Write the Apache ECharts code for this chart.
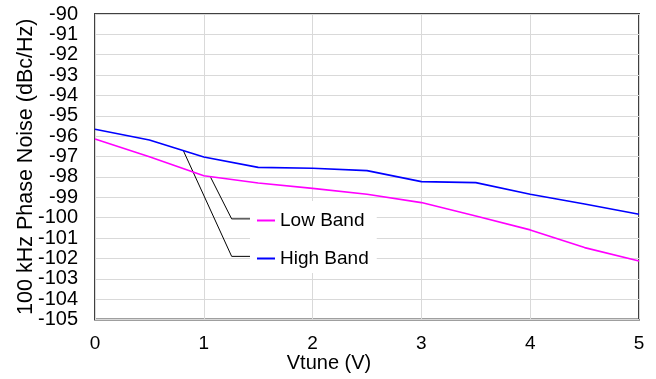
<!DOCTYPE html>
<html>
<head>
    <meta charset="UTF-8">
    <title>Phase Noise vs Vtune</title>
    <style>
        html, body { margin: 0; padding: 0; background: #fff; }
        #chart { width: 656px; height: 379px; }
    </style>
</head>
<body>
    <div id="chart"></div>
    <script src="https://cdn.jsdelivr.net/npm/echarts@6/dist/echarts.min.js"></script>
    <script>
    // data
    var vtune    = [0, 0.5, 1, 1.5, 2, 2.5, 3, 3.5, 4, 4.5, 5];
    var lowBand  = [-96.14, -97.01, -97.94, -98.30, -98.56, -98.85, -99.26, -99.92, -100.60, -101.47, -102.13];
    var highBand = [-95.66, -96.19, -97.02, -97.53, -97.57, -97.69, -98.23, -98.28, -98.85, -99.33, -99.83];
    // leader lines from curves to the labels (in data units)
    var lowLeader  = [[1.063, -98.02], [1.256, -100.06], [1.449, -100.06]];
    var highLeader = [[0.812, -96.71], [1.256, -101.9], [1.449, -101.9]];

    function pairs(xs, ys) {
        var out = [];
        for (var i = 0; i < xs.length; i++) out.push([xs[i], ys[i]]);
        return out;
    }

    var font = 'Liberation Sans, Arial, sans-serif';
    var chart = echarts.init(document.getElementById('chart'));
    var option = {
        animation: false,
        textStyle: { fontFamily: font, color: '#000' },
        grid: {
            left: 95, right: 17, top: 14, bottom: 59.5,
            containLabel: false,
            outerBoundsMode: 'none',
            show: true, borderColor: '#404040', borderWidth: 2,
            backgroundColor: 'transparent'
        },
        legend: {
            data: ['Low Band', 'High Band'],
            orient: 'vertical',
            left: 250, top: 201,
            padding: [10, 8, 5, 7],
            itemGap: 19,
            itemWidth: 18,
            itemHeight: 2,
            icon: 'rect',
            backgroundColor: '#fff',
            textStyle: { fontFamily: font, fontSize: 19, color: '#000' },
            selectedMode: false
        },
        xAxis: {
            type: 'value', min: 0, max: 5, interval: 1,
            name: 'Vtune (V)', nameLocation: 'middle', nameGap: 34,
            nameMoveOverlap: false,
            nameTextStyle: { fontFamily: font, fontSize: 20, color: '#000', padding: [0, 76, 0, 0] },
            axisLine: { show: false },
            axisTick: { show: false },
            axisLabel: { fontFamily: font, fontSize: 19, color: '#000', margin: 15 },
            splitLine: { lineStyle: { color: '#d9d9d9', width: 1 } }
        },
        yAxis: {
            type: 'value', min: -105, max: -90, interval: 1,
            name: '100 kHz Phase Noise (dBc/Hz)', nameLocation: 'middle', nameGap: 58,
            nameMoveOverlap: false,
            nameTextStyle: { fontFamily: font, fontSize: 21.5, color: '#000' },
            axisLine: { show: false },
            axisTick: { show: false },
            axisLabel: { fontFamily: font, fontSize: 20, color: '#000', margin: 17 },
            splitLine: { lineStyle: { color: '#d9d9d9', width: 1 } }
        },
        series: [
            {
                name: 'Low Band', type: 'line', symbol: 'none',
                data: pairs(vtune, lowBand),
                lineStyle: { color: '#ff00ff', width: 1.6 },
                itemStyle: { color: '#ff00ff' },
                z: 3
            },
            {
                name: 'High Band', type: 'line', symbol: 'none',
                data: pairs(vtune, highBand),
                lineStyle: { color: '#0000ff', width: 1.6 },
                itemStyle: { color: '#0000ff' },
                z: 3
            },
            {
                name: 'lowLeader', type: 'line', symbol: 'none', silent: true,
                data: lowLeader,
                lineStyle: { color: '#000', width: 1 },
                z: 2
            },
            {
                name: 'highLeader', type: 'line', symbol: 'none', silent: true,
                data: highLeader,
                lineStyle: { color: '#000', width: 1 },
                z: 2
            }
        ]
    };
    chart.setOption(option);
    </script>
</body>
</html>
